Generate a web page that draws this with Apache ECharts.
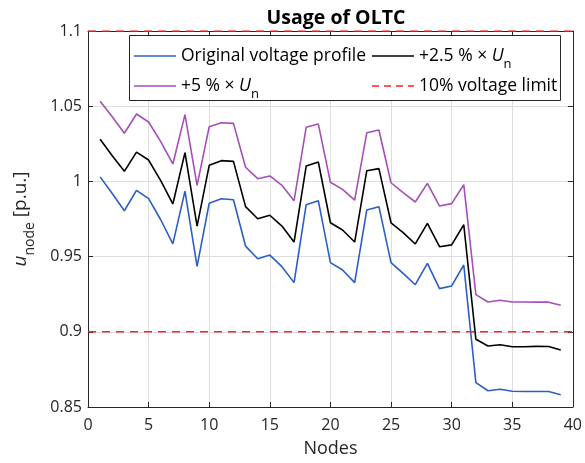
<!DOCTYPE html>
<html><head><meta charset="utf-8">
<script src="https://cdn.jsdelivr.net/npm/echarts@6/dist/echarts.min.js"></script>
<style>html,body{margin:0;padding:0;background:#fff}#c{width:585px;height:463px}</style>
</head><body><div id="c"></div>
<script>
const nodes = [1,2,3,4,5,6,7,8,9,10,11,12,13,14,15,16,17,18,19,20,21,22,23,24,25,26,27,28,29,30,31,32,33,34,35,36,37,38,39];
const original = [1.003,0.992,0.9805,0.994,0.9885,0.9745,0.9585,0.9935,0.9435,0.9855,0.9885,0.9878,0.957,0.9486,0.951,0.9433,0.9327,0.9845,0.9872,0.946,0.9411,0.9327,0.981,0.9832,0.946,0.9389,0.9313,0.9455,0.9287,0.9305,0.9444,0.8662,0.8608,0.8618,0.8605,0.8603,0.8603,0.8603,0.8582];
const plus25 = [1.028,1.017,1.0067,1.0195,1.0142,1.0005,0.985,1.0191,0.9703,1.0107,1.0138,1.0133,0.9832,0.9752,0.9775,0.9703,0.9597,1.0102,1.0129,0.9725,0.9677,0.9597,1.0071,1.0085,0.9725,0.9659,0.9584,0.9721,0.9566,0.9578,0.9712,0.895,0.8906,0.8914,0.8901,0.8901,0.8903,0.8902,0.8879];
const plus5 = [1.0533,1.043,1.032,1.0448,1.0395,1.0264,1.0116,1.0444,0.9974,1.0364,1.039,1.0386,1.0094,1.0018,1.0036,0.9974,0.9872,1.036,1.0382,0.9994,0.9947,0.9876,1.0324,1.0342,0.9991,0.9925,0.9863,0.9987,0.9836,0.9852,0.9978,0.9247,0.9198,0.921,0.9198,0.9198,0.9197,0.9197,0.9176];
const limits = [1.1, 0.9];
const xRange = [0, 40];
const yRange = [0.85, 1.1];

const FONT = 'Open Sans';
const chart = echarts.init(document.getElementById('c'), null, {renderer: 'canvas'});
const pair = (arr) => nodes.map((n, i) => [n, arr[i]]);
const axisCol = '#262626';
const lineSeries = (name, data, color, extra) => Object.assign({
  name, type: 'line', data, symbol: 'none', showSymbol: false, silent: true,
  lineStyle: {color, width: 1.6}, itemStyle: {color}, animation: false, z: 2
}, extra || {});

const richLeg = {
  n: {fontFamily: FONT, fontSize: 17.5, color: '#000', lineHeight: 30, verticalAlign: 'middle'},
  i: {fontFamily: FONT, fontSize: 17.5, fontStyle: 'italic', color: '#000', lineHeight: 30, verticalAlign: 'middle'},
  s: {fontFamily: FONT, fontSize: 13, color: '#000', lineHeight: 13, verticalAlign: 'bottom'}
};
const legFmt = (name) => {
  if (name === '+2.5 % × Un') return '{n|+2.5 % × }{i|U}{s|n}';
  if (name === '+5 % × Un') return '{n|+5 % × }{i|U}{s|n}';
  return '{n|' + name + '}';
};
const SOLID = 'path://M0,0H42V1.6H0Z';
const DASHED = 'path://M0,0H7V1.6H0Z M12,0H19V1.6H12Z M24,0H31V1.6H24Z M36,0H42V1.6H36Z';
const mkLegend = (name, left, top, icon) => ({
  data: [{name, icon}], left, top, orient: 'vertical', itemWidth: 42, itemHeight: 2,
  formatter: legFmt, selectedMode: false, padding: 0,
  textStyle: {rich: richLeg, fontFamily: FONT, fontSize: 17.5, color: '#000'},
  z: 6
});

const option = {
  animation: false,
  title: {text: 'Usage of OLTC', left: 331, top: 3, textAlign: 'center',
    textStyle: {fontFamily: FONT, fontWeight: 'bold', fontSize: 19.5, color: '#000'}},
  grid: {left: 88, right: 11, top: 31, bottom: 56, show: false},
  legend: [
    mkLegend('Original voltage profile', 134, 47, SOLID),
    mkLegend('+2.5 % × Un', 372, 47, SOLID),
    mkLegend('+5 % × Un', 134, 77, SOLID),
    mkLegend('10% voltage limit', 372, 77, DASHED)
  ],
  graphic: [{type: 'rect', shape: {x: 129.5, y: 35.5, width: 431, height: 65},
    style: {fill: '#fff', stroke: axisCol, lineWidth: 1}, z: 5, silent: true}],
  xAxis: [{
    type: 'value', min: xRange[0], max: xRange[1], interval: 5,
    name: 'Nodes', nameLocation: 'middle', nameGap: 33,
    nameTextStyle: {fontFamily: FONT, fontSize: 18, color: axisCol},
    axisLine: {show: true, onZero: false, lineStyle: {color: axisCol, width: 1}},
    axisTick: {show: true, inside: true, length: 5, lineStyle: {color: axisCol}},
    axisLabel: {fontFamily: FONT, fontSize: 16, color: axisCol, margin: 10},
    splitLine: {show: true, lineStyle: {color: '#dedede', width: 1}}
  }, {
    type: 'value', position: 'top', min: xRange[0], max: xRange[1], interval: 5,
    axisLine: {show: true, onZero: false, lineStyle: {color: axisCol, width: 1}},
    axisTick: {show: true, inside: true, length: 5, lineStyle: {color: axisCol}},
    axisLabel: {show: false}, splitLine: {show: false}
  }],
  yAxis: [{
    type: 'value', min: yRange[0], max: yRange[1], interval: 0.05,
    name: '{i|u}{s|node}{n| [p.u.]}', nameLocation: 'middle', nameGap: 51,
    nameTextStyle: {rich: {
      i: {fontFamily: FONT, fontSize: 19, fontStyle: 'italic', color: axisCol, lineHeight: 32, verticalAlign: 'middle'},
      n: {fontFamily: FONT, fontSize: 19, color: axisCol, lineHeight: 32, verticalAlign: 'middle'},
      s: {fontFamily: FONT, fontSize: 14, color: axisCol, lineHeight: 14, verticalAlign: 'bottom'}
    }},
    axisLine: {show: true, onZero: false, lineStyle: {color: axisCol, width: 1}},
    axisTick: {show: true, inside: true, length: 5, lineStyle: {color: axisCol}},
    axisLabel: {fontFamily: FONT, fontSize: 16, color: axisCol, margin: 6,
      formatter: v => String(parseFloat(v.toFixed(2)))},
    splitLine: {show: true, lineStyle: {color: '#dedede', width: 1}}
  }, {
    type: 'value', position: 'right', min: yRange[0], max: yRange[1], interval: 0.05,
    axisLine: {show: true, onZero: false, lineStyle: {color: axisCol, width: 1}},
    axisTick: {show: true, inside: true, length: 5, lineStyle: {color: axisCol}},
    axisLabel: {show: false}, splitLine: {show: false}
  }],
  series: [
    lineSeries('Original voltage profile', pair(original), '#2b5ec6'),
    lineSeries('+2.5 % × Un', pair(plus25), '#000000'),
    lineSeries('+5 % × Un', pair(plus5), '#a64fb8'),
    ...limits.map(l => lineSeries('10% voltage limit', [[xRange[0], l], [xRange[1], l]], '#ff2020',
      {lineStyle: {color: '#ff2020', width: 1.6, type: [8, 6]}, z: 3}))
  ]
};
chart.setOption(option);
</script>
</body></html>
